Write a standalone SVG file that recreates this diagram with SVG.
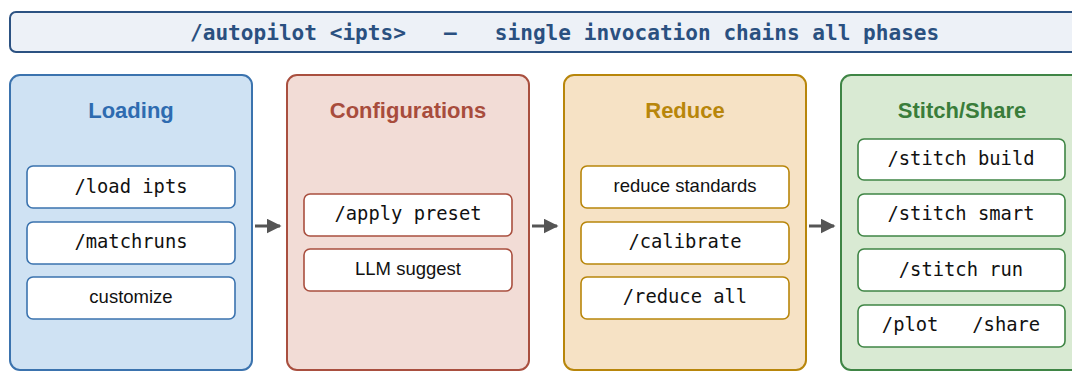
<svg xmlns="http://www.w3.org/2000/svg" width="1072" height="371" viewBox="0 0 1072 371">
<defs>
<marker id="ah" viewBox="0 0 10 10" refX="9" refY="5" markerWidth="5" markerHeight="5" orient="auto" markerUnits="strokeWidth">
<path d="M0,0 L10,5 L0,10 Z" fill="#555555"/>
</marker>
<style>
.banner{fill:#edf1f7;stroke:#2c5282;stroke-width:2}
.btxt{font-family:"DejaVu Sans Mono",monospace;font-weight:bold;font-size:21.1px;fill:#2a5080}
.panel{stroke-width:2}
.title{font-family:"Liberation Sans",Arial,sans-serif;font-weight:bold;font-size:22px;text-anchor:middle}
.item{fill:#ffffff;stroke-width:1.6}
.mono{font-family:"DejaVu Sans Mono",monospace;font-size:18.8px;fill:#111;text-anchor:middle}
.sans{font-family:"Liberation Sans",Arial,sans-serif;font-size:18.5px;fill:#111;text-anchor:middle}
.conn{stroke:#555555;stroke-width:3;fill:none}
.blue{fill:#cfe2f3;stroke:#3b73ae}
.red{fill:#f2dcd6;stroke:#a94f3f}
.gold{fill:#f6e2c5;stroke:#b8860b}
.green{fill:#d9ead3;stroke:#3f8545}
</style>
</defs>
<rect width="1072" height="371" fill="#ffffff"/>
<g id="banner">
<rect class="banner" x="10" y="12" width="1106" height="40" rx="6"/>
<text class="btxt" x="190" y="39.5" xml:space="preserve">/autopilot &lt;ipts&gt;   —   single invocation chains all phases</text>
</g>
<g id="loading">
<rect class="panel blue" x="10" y="75" width="242" height="295" rx="10"/>
<text class="title" x="131" y="118" fill="#2e6bb0">Loading</text>
<rect class="item" x="27" y="166" width="208" height="42" rx="6" stroke="#3b73ae"/>
<text class="mono" x="131" y="193">/load ipts</text>
<rect class="item" x="27" y="222" width="208" height="42" rx="6" stroke="#3b73ae"/>
<text class="mono" x="131" y="248">/matchruns</text>
<rect class="item" x="27" y="277" width="208" height="42" rx="6" stroke="#3b73ae"/>
<text class="sans" x="131" y="303">customize</text>
</g>
<g id="configurations">
<rect class="panel red" x="287" y="75" width="242" height="295" rx="10"/>
<text class="title" x="408" y="118" fill="#a84c3c">Configurations</text>
<rect class="item" x="304" y="194" width="208" height="42" rx="6" stroke="#a94f3f"/>
<text class="mono" x="408" y="220">/apply preset</text>
<rect class="item" x="304" y="249" width="208" height="42" rx="6" stroke="#a94f3f"/>
<text class="sans" x="408" y="275">LLM suggest</text>
</g>
<g id="reduce">
<rect class="panel gold" x="564" y="75" width="242" height="295" rx="10"/>
<text class="title" x="685" y="118" fill="#b8860b">Reduce</text>
<rect class="item" x="581" y="166" width="208" height="42" rx="6" stroke="#b8860b"/>
<text class="sans" x="685" y="192">reduce standards</text>
<rect class="item" x="581" y="222" width="208" height="42" rx="6" stroke="#b8860b"/>
<text class="mono" x="685" y="248">/calibrate</text>
<rect class="item" x="581" y="277" width="208" height="42" rx="6" stroke="#b8860b"/>
<text class="mono" x="685" y="303">/reduce all</text>
</g>
<g id="stitch">
<rect class="panel green" x="841" y="75" width="242" height="295" rx="10"/>
<text class="title" x="962" y="118" fill="#3a7d3a">Stitch/Share</text>
<rect class="item" x="858" y="139" width="207" height="41" rx="6" stroke="#3f8545"/>
<text class="mono" x="961" y="165">/stitch build</text>
<rect class="item" x="858" y="194" width="207" height="42" rx="6" stroke="#3f8545"/>
<text class="mono" x="961" y="220">/stitch smart</text>
<rect class="item" x="858" y="249" width="207" height="42" rx="6" stroke="#3f8545"/>
<text class="mono" x="961" y="276">/stitch run</text>
<rect class="item" x="858" y="305" width="207" height="42" rx="6" stroke="#3f8545"/>
<text class="mono" x="961" y="331" xml:space="preserve">/plot   /share</text>
</g>
<g id="connectors">
<line class="conn" x1="255" y1="226" x2="280" y2="226" marker-end="url(#ah)"/>
<line class="conn" x1="532" y1="226" x2="557" y2="226" marker-end="url(#ah)"/>
<line class="conn" x1="809" y1="226" x2="834" y2="226" marker-end="url(#ah)"/>
</g>
</svg>
